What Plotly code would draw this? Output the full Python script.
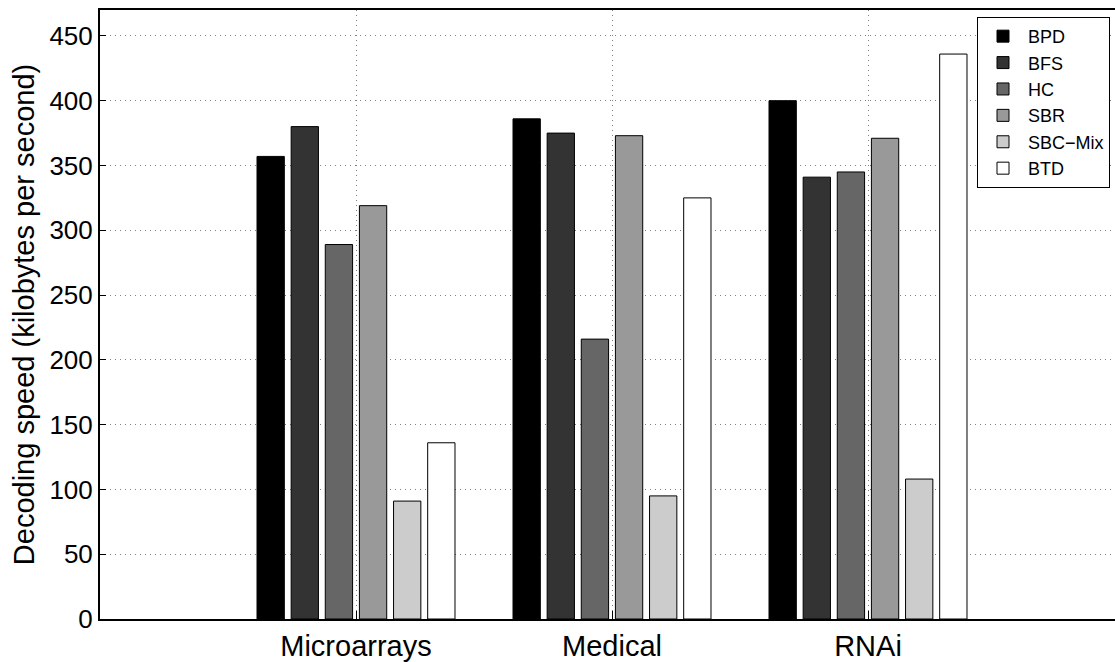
import plotly.graph_objects as go

categories = ["Microarrays", "Medical", "RNAi"]
cat_pos = [1, 2, 3]
series_names = ["BPD", "BFS", "HC", "SBR", "SBC\u2212Mix", "BTD"]
BPD = [357, 386, 400]
BFS = [380, 375, 341]
HC = [289, 216, 345]
SBR = [319, 373, 371]
SBC_Mix = [91, 95, 108]
BTD = [136, 325, 436]
series_values = [BPD, BFS, HC, SBR, SBC_Mix, BTD]
colors = ["#000000", "#333333", "#666666", "#999999", "#cccccc", "#ffffff"]
y_ticks = [0, 50, 100, 150, 200, 250, 300, 350, 400, 450]

FONT = "Liberation Sans, Arial, Helvetica, sans-serif"

fig = go.Figure()
for name, vals, col in zip(series_names, series_values, colors):
    fig.add_trace(go.Bar(
        x=cat_pos, y=vals, name=name,
        marker=dict(color=col, line=dict(color="#000000", width=1)),
    ))

W, H = 1115, 662
ml, mr, mt, mb = 100, 0, 10, 40
plot_w = W - ml - mr
px_per_unit = 256.0
x_max = plot_w / px_per_unit

fig.update_layout(
    width=W, height=H,
    margin=dict(l=ml, r=mr, t=mt, b=mb, pad=0),
    paper_bgcolor="white", plot_bgcolor="white",
    barmode="group", bargap=0.2, bargroupgap=0.2,
    font=dict(family=FONT, color="black", size=26),
    legend=dict(
        x=(977 - ml) / plot_w, xanchor="left",
        y=(622 - 17) / 612, yanchor="top",
        bgcolor="white", bordercolor="black", borderwidth=1,
        font=dict(size=18, family=FONT), tracegroupgap=0,
        itemwidth=40,
    ),
    xaxis=dict(
        range=[0, x_max], tickmode="array", tickvals=cat_pos, ticktext=categories,
        showline=True, linecolor="black", linewidth=2, mirror=True,
        ticks="inside", ticklen=8, tickcolor="black",
        showgrid=True, gridcolor="#808080", griddash="1px,4px", gridwidth=1,
        tickfont=dict(size=29), zeroline=False,
    ),
    yaxis=dict(
        range=[0, 470], tickmode="array", tickvals=y_ticks,
        showline=True, linecolor="black", linewidth=2, mirror=False,
        ticks="inside", ticklen=6, tickcolor="black",
        showgrid=True, gridcolor="#808080", griddash="1px,4px", gridwidth=1,
        tickfont=dict(size=26), zeroline=False,
        title=dict(text="Decoding speed (kilobytes per second)", font=dict(size=29), standoff=6),
    ),
)

fig.write_html("out.html")
